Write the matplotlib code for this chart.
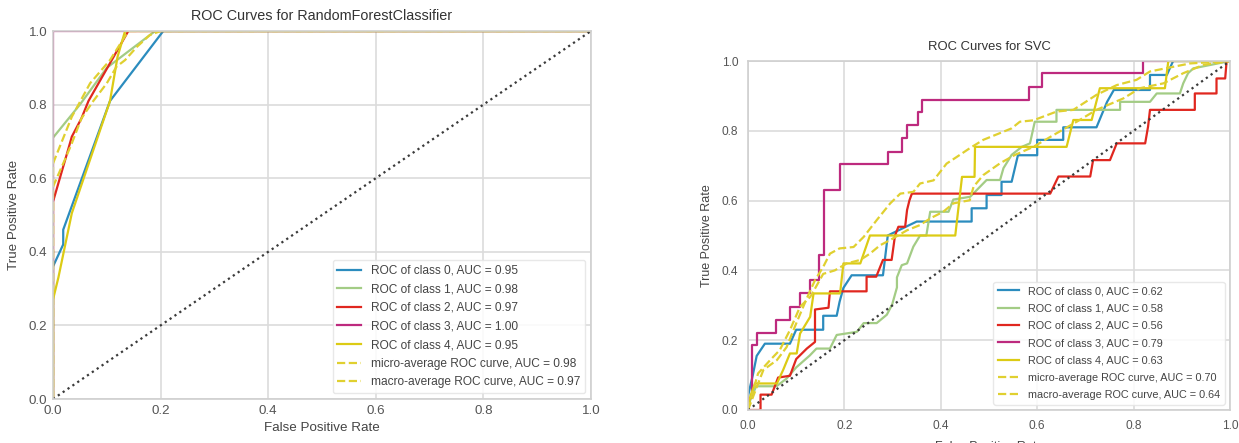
import matplotlib
matplotlib.use("Agg")
import matplotlib.pyplot as plt

# %%
# Data
# ~~~~~~~~~~~~~~~~~~~~~~~~~~~~~~~~

class_labels = ["ROC of class 0", "ROC of class 1", "ROC of class 2",
                "ROC of class 3", "ROC of class 4"]
avg_labels = ["micro-average ROC curve", "macro-average ROC curve"]

# RandomForestClassifier
rf_auc = [0.95, 0.98, 0.97, 1.00, 0.95]
rf_avg_auc = [0.98, 0.97]

rf_fpr_0 = [0, 0, 0.019, 0.019, 0.106, 0.205, 1]
rf_tpr_0 = [0, 0.36, 0.42, 0.46, 0.81, 1.0, 1]
rf_fpr_1 = [0, 0, 0.05, 0.10, 0.19, 1]
rf_tpr_1 = [0, 0.71, 0.80, 0.90, 1.0, 1]
rf_fpr_2 = [0, 0, 0.028, 0.035, 0.053, 0.066, 0.14, 1]
rf_tpr_2 = [0, 0.536, 0.677, 0.713, 0.763, 0.81, 1.0, 1]
rf_fpr_3 = [0, 0, 1]
rf_tpr_3 = [0, 1.0, 1]
rf_fpr_4 = [0, 0, 0.01, 0.022, 0.035, 0.106, 0.12, 0.134, 1]
rf_tpr_4 = [0, 0.27, 0.33, 0.414, 0.505, 0.81, 0.93, 1.0, 1]
rf_fpr_micro = [0, 0, 0.035, 0.069, 0.106, 0.14, 1]
rf_tpr_micro = [0, 0.64, 0.767, 0.858, 0.921, 1.0, 1]
rf_fpr_macro = [0, 0, 0.022, 0.035, 0.053, 0.075, 0.1, 0.118, 0.134, 0.156, 0.18, 0.2, 1]
rf_tpr_macro = [0, 0.577, 0.65, 0.695, 0.763, 0.81, 0.858, 0.903, 0.921, 0.957, 0.989, 1.0, 1]

# SVC
svc_auc = [0.62, 0.58, 0.56, 0.79, 0.63]
svc_avg_auc = [0.70, 0.64]

svc_fpr_0 = [0, 0, 0.01, 0.018, 0.035, 0.087, 0.1, 0.156, 0.156, 0.184, 0.19, 0.198,
             0.215, 0.28, 0.283, 0.29, 0.32, 0.35, 0.464, 0.464, 0.495, 0.495, 0.526,
             0.526, 0.547, 0.56, 0.60, 0.60, 0.654, 0.654, 0.723, 0.735, 0.745, 0.759,
             0.834, 0.834, 0.869, 0.882, 1]
svc_tpr_0 = [0, 0.04, 0.1, 0.155, 0.19, 0.19, 0.23, 0.23, 0.27, 0.27, 0.31, 0.35,
             0.386, 0.386, 0.42, 0.5, 0.52, 0.54, 0.54, 0.578, 0.578, 0.616, 0.616,
             0.654, 0.654, 0.73, 0.73, 0.774, 0.774, 0.81, 0.81, 0.85, 0.883, 0.917,
             0.917, 0.96, 0.96, 1.0, 1]
svc_fpr_1 = [0, 0.005, 0.017, 0.059, 0.08, 0.1, 0.128, 0.142, 0.17, 0.184, 0.226, 0.24,
             0.267, 0.288, 0.299, 0.309, 0.309, 0.319, 0.33, 0.343, 0.357, 0.37, 0.378,
             0.416, 0.426, 0.461, 0.495, 0.523, 0.53, 0.547, 0.568, 0.585, 0.595, 0.64,
             0.64, 0.772, 0.772, 0.834, 0.848, 0.896, 0.903, 0.913, 0.924, 0.993, 1]
svc_tpr_1 = [0, 0.03, 0.068, 0.068, 0.09, 0.122, 0.156, 0.176, 0.176, 0.215, 0.224, 0.249,
             0.249, 0.273, 0.302, 0.351, 0.38, 0.415, 0.42, 0.468, 0.5, 0.5, 0.568,
             0.568, 0.603, 0.611, 0.659, 0.659, 0.693, 0.731, 0.754, 0.764, 0.826, 0.826,
             0.86, 0.86, 0.883, 0.883, 0.907, 0.907, 0.936, 0.965, 0.979, 0.998, 1]
svc_fpr_2 = [0, 0.026, 0.026, 0.049, 0.0625, 0.087, 0.1, 0.122, 0.139, 0.139, 0.167, 0.17,
             0.246, 0.246, 0.266, 0.28, 0.298, 0.305, 0.312, 0.326, 0.33, 0.335, 0.34,
             0.627, 0.644, 0.71, 0.716, 0.751, 0.765, 0.824, 0.83, 0.834, 0.927, 0.927,
             0.972, 0.972, 0.99, 0.993, 1]
svc_tpr_2 = [0, 0, 0.044, 0.044, 0.093, 0.098, 0.146, 0.176, 0.195, 0.288, 0.293, 0.34,
             0.34, 0.382, 0.382, 0.43, 0.43, 0.5, 0.525, 0.525, 0.573, 0.601, 0.62,
             0.62, 0.669, 0.669, 0.716, 0.716, 0.764, 0.764, 0.812, 0.86, 0.86, 0.907,
             0.907, 0.95, 0.95, 1.0, 1]
svc_fpr_3 = [0, 0, 0.008, 0.008, 0.018, 0.018, 0.058, 0.058, 0.087, 0.087, 0.108, 0.108,
             0.129, 0.129, 0.147, 0.147, 0.158, 0.158, 0.19, 0.19, 0.29, 0.29, 0.32, 0.32,
             0.33, 0.33, 0.352, 0.352, 0.361, 0.361, 0.582, 0.582, 0.609, 0.609, 0.82,
             0.82, 1]
svc_tpr_3 = [0, 0.033, 0.033, 0.186, 0.186, 0.221, 0.221, 0.258, 0.258, 0.296, 0.296, 0.334,
             0.334, 0.372, 0.372, 0.444, 0.444, 0.63, 0.63, 0.706, 0.706, 0.74, 0.74,
             0.778, 0.778, 0.816, 0.816, 0.854, 0.854, 0.889, 0.889, 0.926, 0.926, 0.965,
             0.965, 1.0, 1]
svc_fpr_4 = [0, 0.005, 0.0145, 0.06, 0.073, 0.087, 0.101, 0.108, 0.129, 0.136, 0.191, 0.198,
             0.233, 0.253, 0.43, 0.444, 0.47, 0.471, 0.661, 0.675, 0.713, 0.73, 0.865,
             0.872, 1]
svc_tpr_4 = [0, 0.04, 0.076, 0.076, 0.115, 0.162, 0.162, 0.219, 0.267, 0.334, 0.334, 0.42,
             0.42, 0.5, 0.5, 0.668, 0.668, 0.754, 0.754, 0.831, 0.831, 0.922, 0.922,
             1.0, 1]
svc_fpr_micro = [0, 0.021, 0.032, 0.06, 0.08, 0.1, 0.122, 0.139, 0.156, 0.17, 0.19, 0.219,
                 0.24, 0.267, 0.295, 0.316, 0.343, 0.357, 0.385, 0.412, 0.433, 0.46, 0.488,
                 0.547, 0.564, 0.592, 0.64, 0.675, 0.723, 0.765, 0.806, 0.834, 0.917, 1]
svc_tpr_micro = [0, 0.076, 0.115, 0.143, 0.18, 0.248, 0.32, 0.372, 0.41, 0.448, 0.463, 0.467,
                 0.496, 0.544, 0.592, 0.62, 0.625, 0.649, 0.658, 0.706, 0.725, 0.75, 0.774,
                 0.807, 0.826, 0.83, 0.855, 0.86, 0.903, 0.931, 0.946, 0.97, 0.993, 1]
svc_fpr_macro = [0, 0.005, 0.021, 0.046, 0.066, 0.087, 0.108, 0.129, 0.139, 0.156, 0.18,
                 0.205, 0.233, 0.253, 0.274, 0.295, 0.33, 0.357, 0.378, 0.405, 0.426, 0.46,
                 0.468, 0.488, 0.523, 0.554, 0.592, 0.634, 0.682, 0.723, 0.779, 0.813,
                 0.862, 0.903, 0.945, 1]
svc_tpr_macro = [0, 0.03, 0.105, 0.143, 0.172, 0.229, 0.296, 0.324, 0.348, 0.39, 0.4,
                 0.42, 0.43, 0.448, 0.472, 0.487, 0.515, 0.53, 0.549, 0.568, 0.592, 0.601,
                 0.64, 0.673, 0.707, 0.731, 0.754, 0.788, 0.826, 0.86, 0.893, 0.922,
                 0.936, 0.965, 0.989, 1]

ticks = [0.0, 0.2, 0.4, 0.6, 0.8, 1.0]

# %%
# Style
# ~~~~~

plt.rcParams["font.family"] = ["Liberation Sans", "DejaVu Sans"]
colors = ["#2b8cbe", "#a3cc85", "#e0271f", "#bd2a7e", "#dccb14"]
avg_color = "#e0d030"
grid_color = "#dcdcdc"
text_color = "#444444"


def draw_roc(ax, curves, aucs, avg_curves, avg_aucs, title, sizes, pads):
    title_size, label_size, tick_size, legend_size = sizes
    tick_pad, xlabel_pad, label_spacing = pads
    for (fpr, tpr), auc, label, color in zip(curves, aucs, class_labels, colors):
        ax.plot(fpr, tpr, color=color, lw=1.6,
                label="{}, AUC = {:0.2f}".format(label, auc))
    for (fpr, tpr), auc, label in zip(avg_curves, avg_aucs, avg_labels):
        ax.plot(fpr, tpr, color=avg_color, lw=1.6, linestyle="--",
                label="{}, AUC = {:0.2f}".format(label, auc))
    ax.plot([0, 1], [0, 1], linestyle=":", color="#3a3a3a", lw=1.6)

    ax.set_xlim(0, 1)
    ax.set_ylim(0, 1)
    ax.set_xticks(ticks)
    ax.set_yticks(ticks)
    ax.grid(True, color=grid_color, lw=1.2)
    ax.set_axisbelow(True)
    for spine in ax.spines.values():
        spine.set_color("#cfcfcf")
        spine.set_linewidth(1.2)
    ax.tick_params(length=0, labelsize=tick_size, labelcolor="#555555", pad=tick_pad)
    ax.set_title(title, fontsize=title_size, color="#333333", pad=8)
    ax.set_xlabel("False Positive Rate", fontsize=label_size, color=text_color,
                  labelpad=xlabel_pad)
    ax.set_ylabel("True Positive Rate", fontsize=label_size, color=text_color, labelpad=6)
    leg = ax.legend(loc="lower right", fontsize=legend_size, frameon=True,
                    framealpha=0.85, edgecolor="#e4e4e4", fancybox=True,
                    labelspacing=label_spacing)
    for text in leg.get_texts():
        text.set_color(text_color)


fig = plt.figure(figsize=(12.39, 4.43), dpi=100)

ax_rf = fig.add_axes([53 / 1239, 1 - 399 / 443, 538 / 1239, 368 / 443])
draw_roc(
    ax_rf,
    [(rf_fpr_0, rf_tpr_0), (rf_fpr_1, rf_tpr_1), (rf_fpr_2, rf_tpr_2),
     (rf_fpr_3, rf_tpr_3), (rf_fpr_4, rf_tpr_4)],
    rf_auc,
    [(rf_fpr_micro, rf_tpr_micro), (rf_fpr_macro, rf_tpr_macro)],
    rf_avg_auc,
    "ROC Curves for RandomForestClassifier",
    (10.4, 9.6, 9.6, 8.6),
    (4, 4, 0.55),
)

ax_svc = fig.add_axes([748 / 1239, 1 - 410 / 443, 482 / 1239, 349 / 443])
draw_roc(
    ax_svc,
    [(svc_fpr_0, svc_tpr_0), (svc_fpr_1, svc_tpr_1), (svc_fpr_2, svc_tpr_2),
     (svc_fpr_3, svc_tpr_3), (svc_fpr_4, svc_tpr_4)],
    svc_auc,
    [(svc_fpr_micro, svc_tpr_micro), (svc_fpr_macro, svc_tpr_macro)],
    svc_avg_auc,
    "ROC Curves for SVC",
    (9.4, 9, 8.6, 7.8),
    (7, 7, 0.68),
)

fig.savefig("out.png", dpi=100)
